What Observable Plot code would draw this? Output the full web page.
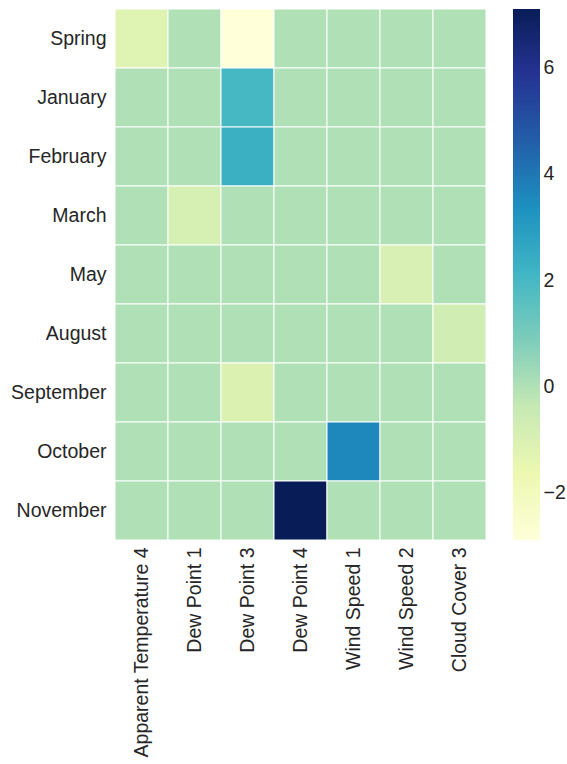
<!DOCTYPE html>
<html>
<head>
<meta charset="utf-8">
<script src="https://cdn.jsdelivr.net/npm/d3@7"></script>
<script src="https://cdn.jsdelivr.net/npm/@observablehq/plot@0.6"></script>
<style>
  html, body { margin: 0; padding: 0; background: #fff; }
  #wrap { position: relative; width: 567px; height: 764px; }
  #heat { position: absolute; left: 0; top: 0; }
  #cbar { position: absolute; left: 500px; top: 0; }
  svg { font-family: "Liberation Sans", Arial, sans-serif; }
</style>
</head>
<body>
<div id="wrap"><div id="heat"></div><div id="cbar"></div></div>
<script>
const rows = ["Spring", "January", "February", "March", "May", "August", "September", "October", "November"];
const cols = ["Apparent Temperature 4", "Dew Point 1", "Dew Point 3", "Dew Point 4", "Wind Speed 1", "Wind Speed 2", "Cloud Cover 3"];
const values = [
  [-1.2, 0, -2.9, 0, 0, 0, 0],
  [0, 0, 2.0, 0, 0, 0, 0],
  [0, 0, 2.3, 0, 0, 0, 0],
  [0, -0.9, 0, 0, 0, 0, 0],
  [0, 0, 0, 0, 0, -0.95, 0],
  [0, 0, 0, 0, 0, 0, -0.7],
  [0, 0, -1.05, 0, 0, 0, 0],
  [0, 0, 0, 0, 3.6, 0, 0],
  [0, 0, 0, 7.1, 0, 0, 0]
];
const colorTicks = [-2, 0, 2, 4, 6];
const vmin = -2.9, vmax = 7.1;
const palette = ["#ffffd9","#edf8b1","#c7e9b4","#7fcdbb","#41b6c4","#1d91c0","#225ea8","#253494","#081d58"];

const cells = [];
rows.forEach((r, i) => cols.forEach((c, j) => cells.push({row: r, col: c, value: values[i][j]})));

const colorScale = {
  type: "linear",
  domain: palette.map((_, k) => vmin + (vmax - vmin) * k / (palette.length - 1)),
  range: palette,
  clamp: true
};

const heat = Plot.plot({
  width: 500,
  height: 764,
  marginLeft: 112,
  marginRight: 11,
  marginTop: 9,
  marginBottom: 224,
  style: {fontSize: "19.5px", color: "#262626", background: "transparent"},
  x: {domain: cols, padding: 0, label: null, tickSize: 0, tickPadding: 7, tickRotate: -90},
  y: {domain: rows, padding: 0, label: null, tickSize: 0, tickPadding: 6},
  color: colorScale,
  marks: [
    Plot.cell(cells, {x: "col", y: "row", fill: "value", stroke: "white", strokeWidth: 1, inset: 0})
  ]
});
document.getElementById("heat").appendChild(heat);

const step = (vmax - vmin) / 400;
const grad = d3.range(400).map(k => ({y1: vmin + k * step, y2: vmin + (k + 1) * step, v: vmin + (k + 0.5) * step}));

const cbar = Plot.plot({
  width: 67,
  height: 764,
  marginLeft: 13,
  marginRight: 27,
  marginTop: 9,
  marginBottom: 224,
  style: {fontSize: "19.5px", color: "#262626", background: "transparent"},
  x: {domain: [0, 1], axis: null},
  y: {domain: [vmin, vmax], axis: "right", ticks: colorTicks, tickSize: 0, tickPadding: 3, label: null},
  color: colorScale,
  marks: [
    Plot.rect(grad, {x1: 0, x2: 1, y1: "y1", y2: "y2", fill: "v", shapeRendering: "crispEdges"})
  ]
});
document.getElementById("cbar").appendChild(cbar);
</script>
</body>
</html>
